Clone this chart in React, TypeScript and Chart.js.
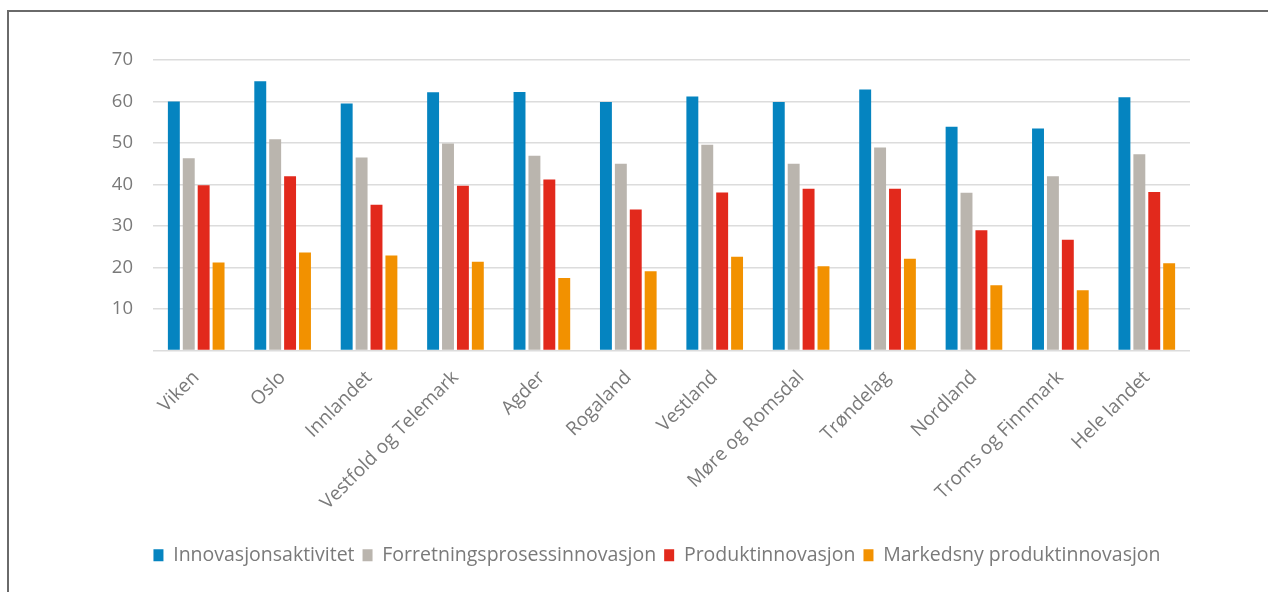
import React, { useEffect, useRef } from "react";
import { Chart, registerables } from "chart.js";

Chart.register(...registerables);

const categories = [
  "Viken",
  "Oslo",
  "Innlandet",
  "Vestfold og Telemark",
  "Agder",
  "Rogaland",
  "Vestland",
  "Møre og Romsdal",
  "Trøndelag",
  "Nordland",
  "Troms og Finnmark",
  "Hele landet",
];

const innovasjonsaktivitet = [60.0, 64.9, 59.5, 62.2, 62.3, 59.9, 61.2, 59.9, 62.9, 53.9, 53.5, 61.0];
const forretningsprosess = [46.3, 50.9, 46.5, 49.9, 46.9, 45.0, 49.6, 45.0, 48.9, 38.0, 42.0, 47.3];
const produktinnovasjon = [39.8, 42.0, 35.1, 39.7, 41.2, 34.0, 38.1, 39.0, 39.0, 29.0, 26.7, 38.2];
const markedsnyProdukt = [21.2, 23.6, 22.9, 21.4, 17.5, 19.1, 22.6, 20.3, 22.1, 15.7, 14.5, 21.0];

const seriesNames = [
  "Innovasjonsaktivitet",
  "Forretningsprosessinnovasjon",
  "Produktinnovasjon",
  "Markedsny produktinnovasjon",
];

const yTicks = [0, 10, 20, 30, 40, 50, 60, 70];

const colors = ["#0584C0", "#BAB5AE", "#E2291C", "#F29100"];

export default function App() {
  const ref = useRef<HTMLCanvasElement | null>(null);

  useEffect(() => {
    if (!ref.current) return;
    const seriesData = [innovasjonsaktivitet, forretningsprosess, produktinnovasjon, markedsnyProdukt];
    const chart = new Chart(ref.current, {
      type: "bar",
      data: {
        labels: categories,
        datasets: seriesNames.map((name, i) => ({
          label: name,
          data: seriesData[i],
          backgroundColor: colors[i],
          borderWidth: 0,
          barPercentage: 0.8,
          categoryPercentage: 0.69,
        })),
      },
      options: {
        animation: false,
        responsive: false,
        maintainAspectRatio: false,
        layout: { padding: { top: 60, left: 98, right: 52, bottom: 17 } },
        plugins: {
          tooltip: { enabled: false },
          legend: {
            position: "bottom",
            labels: {
              boxWidth: 10,
              boxHeight: 12,
              padding: 8,
              color: "#7a7a7a",
              font: { family: "'Open Sans'", size: 19.5 },
            },
          },
        },
        scales: {
          x: {
            grid: { display: false, drawTicks: false },
            border: { display: false },
            ticks: {
              autoSkip: false,
              minRotation: 45,
              maxRotation: 45,
              padding: 16,
              color: "#7a7a7a",
              font: { family: "'Open Sans'", size: 19 },
            },
            afterFit: (axis: any) => {
              axis.height = 187;
            },
          },
          y: {
            min: 0,
            max: 70,
            afterBuildTicks: (axis: any) => {
              axis.ticks = yTicks.map((v) => ({ value: v }));
            },
            grid: { color: "#dcdcdc", lineWidth: 1.5, drawTicks: false },
            border: { display: false },
            ticks: {
              padding: 20,
              color: "#7a7a7a",
              font: { family: "'Open Sans'", size: 18.5 },
              callback: (v: any) => (v === 0 ? "" : String(v)),
            },
            afterFit: (axis: any) => {
              axis.width = 55;
            },
          },
          yRight: {
            type: "linear",
            position: "right",
            display: true,
            grid: { display: false, drawTicks: false },
            border: { display: false },
            ticks: { display: false },
            afterFit: (axis: any) => {
              axis.width = 26;
            },
          },
        },
      },
    });
    return () => chart.destroy();
  }, []);

  return (
    <div style={{ position: "absolute", left: 0, top: 0, width: 1268, height: 592, overflow: "hidden", background: "#fff" }}>
      <div
        style={{
          position: "absolute",
          left: 7,
          top: 10,
          width: 1400,
          height: 700,
          borderLeft: "2px solid #6a6a6a",
          borderTop: "2px solid #6a6a6a",
        }}
      />
      <canvas ref={ref} width={1268} height={592} style={{ position: "absolute", left: 0, top: 0 }} />
    </div>
  );
}
